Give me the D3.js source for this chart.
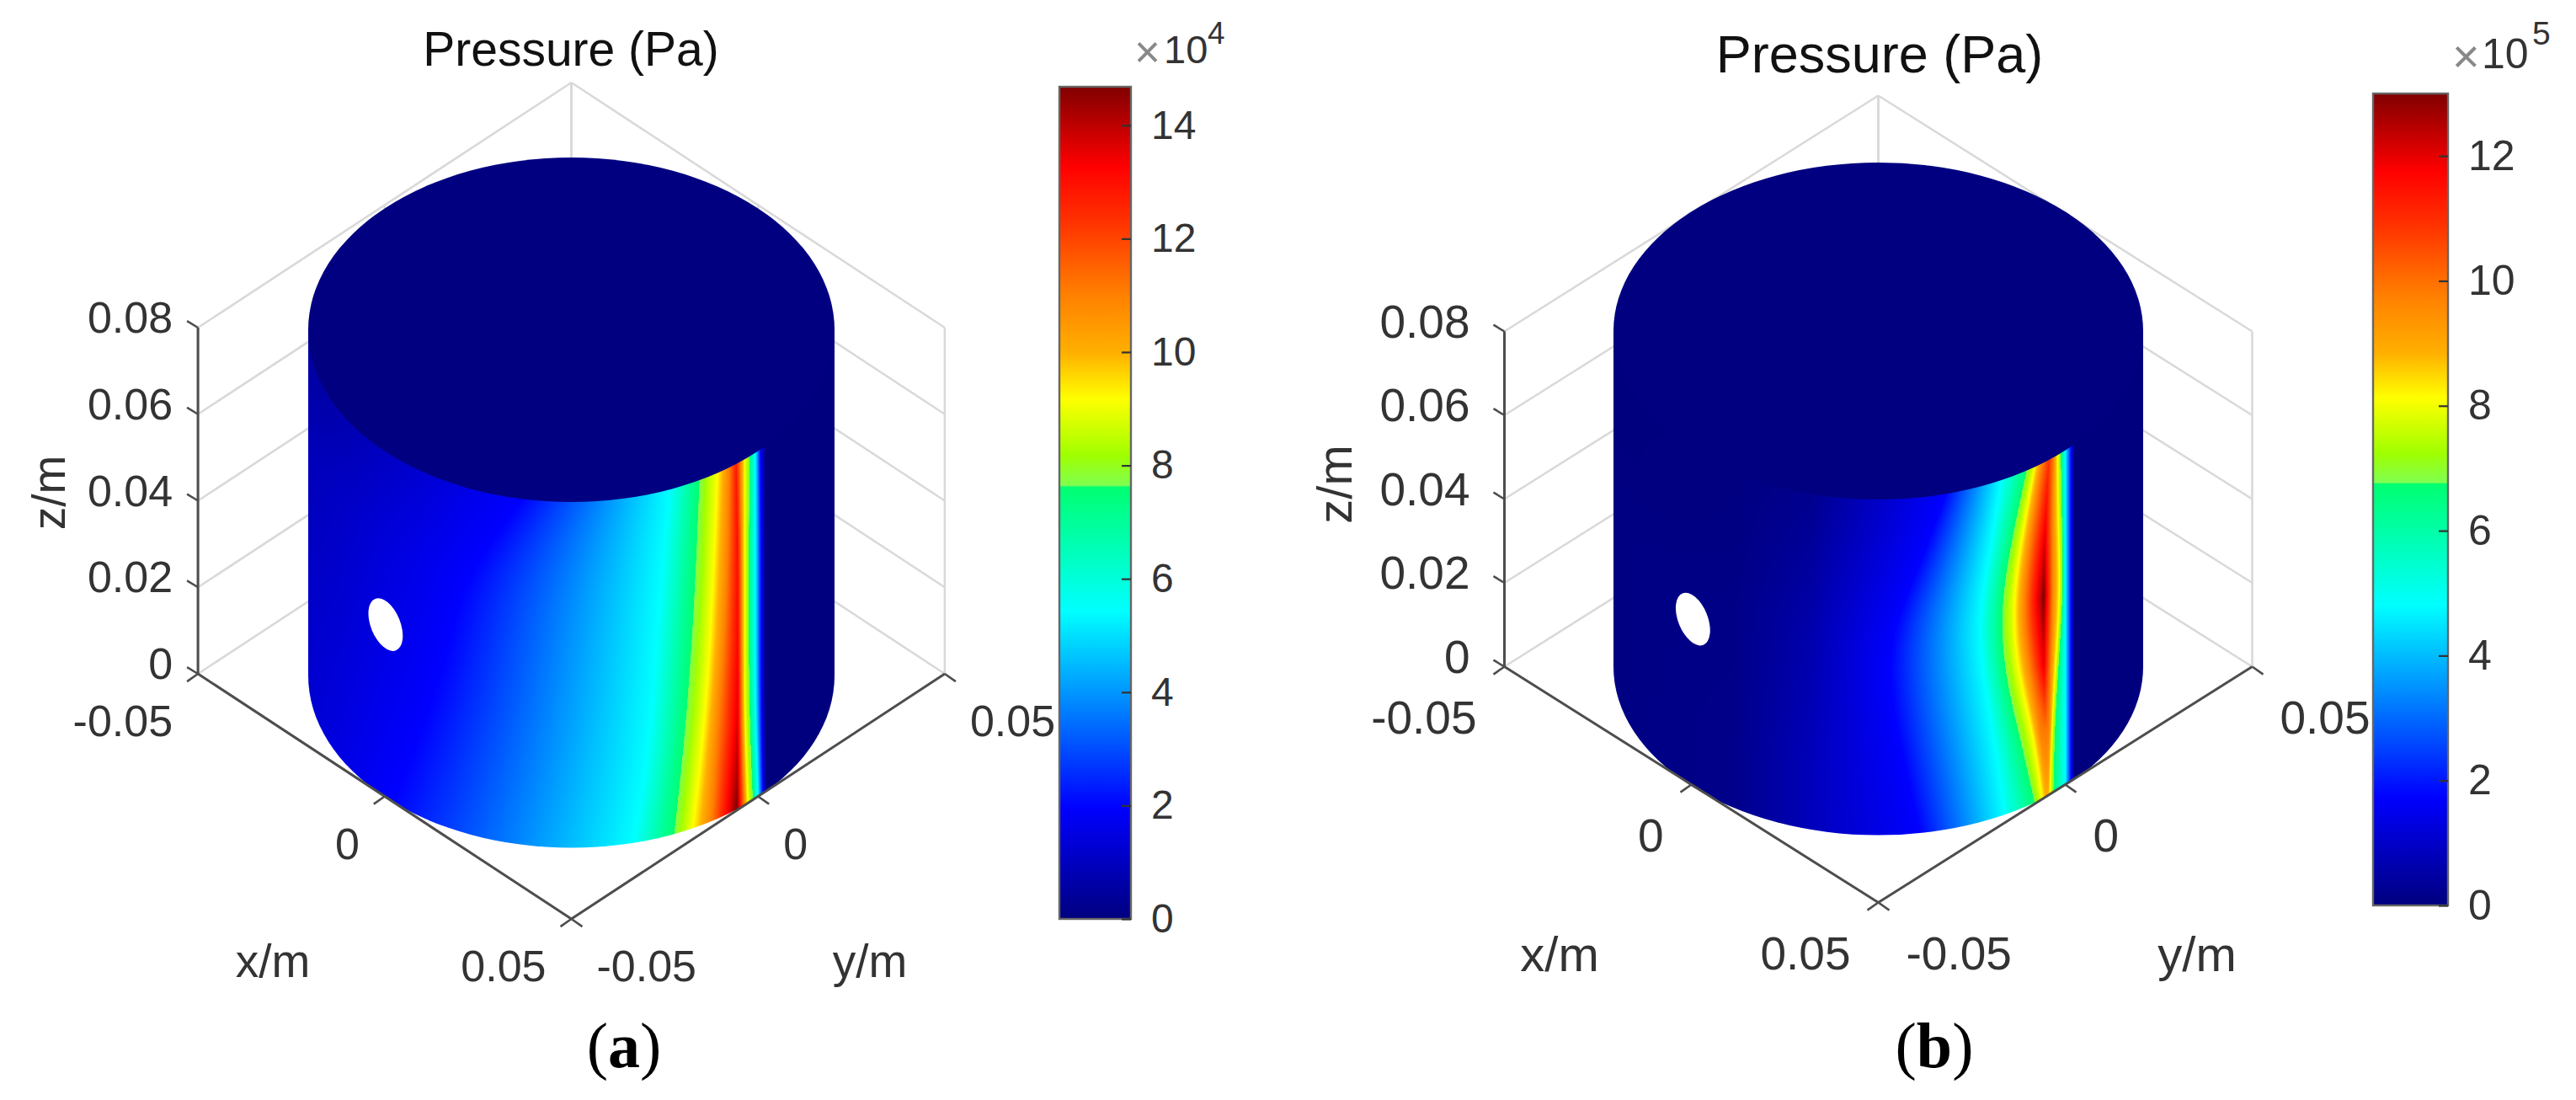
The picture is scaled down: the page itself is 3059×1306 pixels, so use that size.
<!DOCTYPE html>
<html>
<head>
<meta charset="utf-8">
<script src="https://cdn.jsdelivr.net/npm/d3@7"></script>
<style>
  html, body { margin: 0; background: #fff; }
  svg { display: block; }
  text { font-family: "Liberation Sans", Arial, sans-serif; fill: #333; }
</style>
</head>
<body>
<div id="viz"></div>
<script>
// tick labels
const xyTicks = [-0.05, 0, 0.05];
const zTicks = [0, 0.02, 0.04, 0.06, 0.08];
const barTicksA = [0, 2, 4, 6, 8, 10, 12, 14];
const barTicksB = [0, 2, 4, 6, 8, 10, 12];
const barMaxA = 14.68;
const barMaxB = 13.0;

// colormap (fraction of the colorbar range -> colour), note the step near 0.52
const cmapStops = [0, 0.133, 0.37, 0.519, 0.521, 0.557, 0.625, 0.68, 0.75, 0.84, 0.904, 1];
const cmapColors = ["#00007f", "#0000ff", "#00ffff", "#00ff70", "#80ff50", "#a0ff00", "#ffff00", "#ffb000", "#ff8000", "#ff3000", "#ff0000", "#800000"];

// wall pressure: one row per height z,
// knot position across the cylinder (-1..1 of the radius) and value at that knot
const heightsA = [0, 0.02, 0.04, 0.06, 0.08];
const knotPosA = [
  [-1, -0.683, 0.235, 0.389, 0.462, 0.533, 0.629, 0.670, 0.690, 0.709, 0.728, 0.741, 1],
  [-1, -0.571, 0.293, 0.427, 0.501, 0.555, 0.632, 0.658, 0.677, 0.699, 0.722, 0.738, 1],
  [-1, -0.475, 0.318, 0.453, 0.526, 0.581, 0.632, 0.658, 0.674, 0.699, 0.722, 0.738, 1],
  [-1, -0.411, 0.341, 0.472, 0.542, 0.594, 0.632, 0.658, 0.675, 0.699, 0.722, 0.738, 1],
  [-1, -0.187, 0.373, 0.485, 0.555, 0.600, 0.626, 0.658, 0.677, 0.699, 0.718, 0.738, 1]
];
const knotValA = [
  [1.25, 1.95, 5.43, 7.6, 9.17, 11, 14.68, 9.17, 7.6, 5.43, 1.95, 0, 0],
  [1.15, 1.95, 5.43, 7.6, 9.17, 11, 13.6, 9.17, 7.6, 5.43, 1.95, 0, 0],
  [1.0, 1.95, 5.43, 7.6, 9.17, 11, 13.2, 9.17, 7.6, 5.43, 1.95, 0, 0],
  [0.85, 1.95, 5.43, 7.6, 9.17, 11, 13.0, 9.17, 7.6, 5.43, 1.95, 0, 0],
  [0.5, 1.95, 5.43, 7.6, 9.17, 11, 12.8, 9.17, 7.6, 5.43, 1.95, 0, 0]
];

const heightsB = [0, 0.016, 0.032, 0.048, 0.064, 0.08];
const knotPosB = [
  [-1, -0.542, -0.256, 0.157, 0.475, 0.590, 0.618, 0.630, 0.638, 0.642, 0.648, 0.661, 0.706, 0.728, 0.740, 1],
  [-1, -0.542, -0.256, 0.100, 0.444, 0.539, 0.587, 0.618, 0.632, 0.643, 0.655, 0.666, 0.706, 0.728, 0.740, 1],
  [-1, -0.542, -0.256, 0.046, 0.401, 0.481, 0.528, 0.571, 0.624, 0.650, 0.671, 0.683, 0.706, 0.728, 0.740, 1],
  [-1, -0.542, -0.256, 0.040, 0.372, 0.458, 0.503, 0.543, 0.624, 0.660, 0.688, 0.699, 0.706, 0.728, 0.740, 1],
  [-1, -0.542, -0.256, 0.157, 0.422, 0.499, 0.539, 0.576, 0.629, 0.655, 0.679, 0.693, 0.706, 0.728, 0.740, 1],
  [-1, -0.542, -0.256, 0.253, 0.463, 0.560, 0.590, 0.618, 0.644, 0.661, 0.677, 0.689, 0.706, 0.728, 0.740, 1]
];
const knotValB = [
  [0.05, 0.15, 0.8, 1.73, 4.81, 6.76, 8.1, 8.8, 9.0, 8.8, 8.1, 6.76, 4.81, 1.73, 0, 0],
  [0.05, 0.15, 0.8, 1.73, 4.81, 6.76, 8.1, 9.75, 9.9, 9.75, 8.1, 6.76, 4.81, 1.73, 0, 0],
  [0.05, 0.12, 0.7, 1.73, 4.81, 6.76, 8.1, 9.75, 12.0, 9.75, 8.1, 6.76, 4.81, 1.73, 0, 0],
  [0.05, 0.1, 0.6, 1.73, 4.81, 6.76, 8.1, 9.75, 13.0, 9.75, 8.1, 6.76, 4.81, 1.73, 0, 0],
  [0, 0.05, 0.4, 1.73, 4.81, 6.76, 8.1, 9.75, 11.9, 9.75, 8.1, 6.76, 4.81, 1.73, 0, 0],
  [0, 0.02, 0.2, 1.73, 4.81, 6.76, 8.1, 9.75, 10.9, 9.75, 8.1, 6.76, 4.81, 1.73, 0, 0]
];

// port hole on the wall: position across the cylinder, height
const holeA = [-0.706, 0.04];
const holeB = [-0.70, 0.04];

const svg = d3.select("#viz").append("svg").attr("width", 3059).attr("height", 1306);
const defs = svg.append("defs");

function makeCmap(maxVal) {
  return d3.scaleLinear().domain(cmapStops.map(t => t * maxVal)).range(cmapColors).clamp(true);
}

function fieldImage(p) {
  const x0 = Math.floor(p.cx - p.rx) - 2;
  const y0 = Math.floor(p.cyTop) - 2;
  const w = Math.ceil(2 * p.rx) + 4;
  const h = Math.ceil(p.cyBot + p.ry - p.cyTop) + 4;

  const cmap = makeCmap(p.barMax);
  const lut = d3.range(2048).map(i => d3.rgb(cmap(i / 2047 * p.barMax)));

  // one s->value scale per height step. Knot positions follow a smooth spline over
  // height so the contours bend instead of showing corners at the read rows
  const nKnots = p.pos[0].length;
  const posAt = d3.range(nKnots).map(k => d3.interpolateBasis(p.pos.map(r => r[k])));
  const valAt = d3.range(nKnots).map(k => d3.scaleLinear().domain(p.heights).range(p.val.map(r => r[k])));
  const steps = 400;
  const rows = d3.range(steps + 1).map(i => {
    const z = i / steps * 0.08;
    const knots = posAt.map(f => f(i / steps));
    for (let k = 1; k < nKnots; k++) knots[k] = Math.max(knots[k], knots[k - 1]);
    return d3.scaleLinear().domain(knots).range(valAt.map(f => f(z))).clamp(true);
  });

  const canvas = document.createElement("canvas");
  canvas.width = w;
  canvas.height = h;
  const ctx = canvas.getContext("2d");
  const img = ctx.createImageData(w, h);
  const wallH = p.cyBot - p.cyTop;

  for (let j = 0; j < h; j++) {
    for (let i = 0; i < w; i++) {
      const s = Math.max(-1, Math.min(1, (x0 + i + 0.5 - p.cx) / p.rx));
      const front = p.ry * Math.sqrt(1 - s * s);
      const f = Math.max(0, Math.min(1, (p.cyBot + front - (y0 + j + 0.5)) / wallH));
      const v = rows[Math.round(f * steps)](s);
      const c = lut[Math.round(v / p.barMax * 2047)];
      const o = (j * w + i) * 4;
      img.data[o] = c.r;
      img.data[o + 1] = c.g;
      img.data[o + 2] = c.b;
      img.data[o + 3] = 255;
    }
  }
  ctx.putImageData(img, 0, 0);
  return { href: canvas.toDataURL(), x: x0, y: y0, w, h };
}

function drawPanel(p) {
  const g = svg.append("g");

  // box projection: each data axis adds its own screen offset
  const xToSx = d3.scaleLinear().domain([-0.05, 0.05]).range([-p.halfW, p.halfW]);
  const yToSx = d3.scaleLinear().domain([-0.05, 0.05]).range([-p.halfW, p.halfW]);
  const xToSy = d3.scaleLinear().domain([-0.05, 0.05]).range([-p.halfH, p.halfH]);
  const yToSy = d3.scaleLinear().domain([-0.05, 0.05]).range([p.halfH, -p.halfH]);
  const zToSy = d3.scaleLinear().domain([0, 0.08]).range([0, -p.boxH]);
  const proj = (x, y, z) => [
    p.originX + xToSx(x) + yToSx(y),
    p.originY + xToSy(x) + yToSy(y) + zToSy(z)
  ];
  const line = d3.line();
  const seg = (a, b, color, width) => g.append("path")
    .attr("d", line([a, b]))
    .attr("fill", "none")
    .attr("stroke", color)
    .attr("stroke-width", width);

  // grid on the two back walls
  const gridColor = "#d9d9d9";
  zTicks.forEach(z => {
    seg(proj(-0.05, -0.05, z), proj(-0.05, 0.05, z), gridColor, 2.6);
    seg(proj(-0.05, 0.05, z), proj(0.05, 0.05, z), gridColor, 2.6);
  });
  xyTicks.forEach(t => {
    seg(proj(t, 0.05, 0), proj(t, 0.05, 0.08), gridColor, 2.6);
    seg(proj(-0.05, t, 0), proj(-0.05, t, 0.08), gridColor, 2.6);
  });

  // cylinder wall, clipped to its outline, then the top face and the hole
  const outline = `M${p.cx - p.rx},${p.cyTop}A${p.rx},${p.ry} 0 0 1 ${p.cx + p.rx},${p.cyTop}` +
    `L${p.cx + p.rx},${p.cyBot}A${p.rx},${p.ry} 0 0 1 ${p.cx - p.rx},${p.cyBot}Z`;
  defs.append("clipPath").attr("id", p.id + "-clip").append("path").attr("d", outline);
  const field = fieldImage(p);
  g.append("image")
    .attr("href", field.href)
    .attr("x", field.x).attr("y", field.y)
    .attr("width", field.w).attr("height", field.h)
    .attr("clip-path", `url(#${p.id}-clip)`);
  g.append("ellipse")
    .attr("cx", p.cx).attr("cy", p.cyTop)
    .attr("rx", p.rx).attr("ry", p.ry)
    .attr("fill", "#000080");

  const sToX = d3.scaleLinear().domain([-1, 1]).range([p.cx - p.rx, p.cx + p.rx]);
  const holeX = sToX(p.hole[0]);
  const holeFront = p.ry * Math.sqrt(1 - p.hole[0] * p.hole[0]);
  const holeY = p.cyBot + holeFront + zToSy(p.hole[1]) * (p.cyBot - p.cyTop) / p.boxH;
  g.append("ellipse")
    .attr("cx", 0).attr("cy", 0)
    .attr("rx", 17.5).attr("ry", 33)
    .attr("transform", `translate(${holeX},${holeY}) rotate(-22)`)
    .attr("fill", "#fff");

  // dark axis lines and ticks
  const axisColor = "#4d4d4d";
  seg(proj(-0.05, -0.05, 0), proj(-0.05, -0.05, 0.08), axisColor, 3);
  seg(proj(-0.05, -0.05, 0), proj(0.05, -0.05, 0), axisColor, 3);
  seg(proj(0.05, -0.05, 0), proj(0.05, 0.05, 0), axisColor, 3);

  const tickLen = 13;
  xyTicks.forEach(t => {
    const a = proj(t, -0.05, 0);
    seg(a, [a[0] - tickLen, a[1] + tickLen * 0.7], axisColor, 2.6);
    const b = proj(0.05, t, 0);
    seg(b, [b[0] + tickLen, b[1] + tickLen * 0.7], axisColor, 2.6);
  });
  zTicks.forEach(z => {
    const a = proj(-0.05, -0.05, z);
    seg(a, [a[0] - tickLen, a[1] - tickLen * 0.6], axisColor, 2.6);
  });

  const tickText = (pos, dx, dy, anchor, label) => g.append("text")
    .attr("x", pos[0] + dx).attr("y", pos[1] + dy)
    .attr("dominant-baseline", "central")
    .attr("text-anchor", anchor)
    .attr("font-size", p.tickFont)
    .text(label);

  xyTicks.forEach(t => {
    tickText(proj(t, -0.05, 0), -p.tickGap, p.tickDrop, "end", d3.format("")(t).replace("\u2212", "-"));
    tickText(proj(0.05, t, 0), p.tickGap, p.tickDrop, "start", d3.format("")(t).replace("\u2212", "-"));
  });
  zTicks.forEach(z => tickText(proj(-0.05, -0.05, z), -p.zGap, -12, "end", d3.format("")(z)));

  const axisLabel = (pos, label, rot) => g.append("text")
    .attr("transform", `translate(${pos[0]},${pos[1]})` + (rot ? ` rotate(${rot})` : ""))
    .attr("dominant-baseline", "central")
    .attr("text-anchor", "middle")
    .attr("font-size", p.labelFont)
    .text(label);
  axisLabel(p.xLabel, "x/m");
  axisLabel(p.yLabel, "y/m");
  axisLabel(p.zLabel, "z/m", -90);

  g.append("text")
    .attr("x", p.titleX).attr("y", p.titleY)
    .attr("text-anchor", "middle")
    .attr("font-size", p.titleFont)
    .style("fill", "#111")
    .text("Pressure (Pa)");

  // colorbar
  const barScale = d3.scaleLinear().domain([0, p.barMax]).range([p.barBot, p.barTop]);
  const cmap = makeCmap(p.barMax);
  const grad = defs.append("linearGradient")
    .attr("id", p.id + "-bar")
    .attr("x1", 0).attr("y1", 1).attr("x2", 0).attr("y2", 0);
  cmapStops.forEach(t => grad.append("stop")
    .attr("offset", t)
    .attr("stop-color", cmap(t * p.barMax)));
  g.append("rect")
    .attr("x", p.barLeft).attr("y", p.barTop)
    .attr("width", p.barRight - p.barLeft).attr("height", p.barBot - p.barTop)
    .attr("fill", `url(#${p.id}-bar)`)
    .attr("stroke", "#666")
    .attr("stroke-width", 2.4);

  const barAxis = g.append("g")
    .attr("transform", `translate(${p.barRight},0)`)
    .call(d3.axisRight(barScale).tickValues(p.barTicks).tickSizeInner(-11).tickSizeOuter(0).tickPadding(p.barPad).tickFormat(d3.format("d")));
  barAxis.select(".domain").remove();
  barAxis.selectAll("line").attr("stroke", "#333").attr("stroke-width", 2.2);
  barAxis.selectAll("text")
    .attr("font-size", p.barFont)
    .attr("font-family", "Liberation Sans")
    .style("fill", "#333");

  // scale factor above the colorbar
  g.append("text")
    .attr("x", p.timesX).attr("y", p.timesY)
    .attr("font-size", p.timesFont)
    .style("fill", "#888")
    .text("\u00d7");
  g.append("text")
    .attr("x", p.tenX).attr("y", p.tenY)
    .attr("font-size", p.tenFont)
    .text("10");
  g.append("text")
    .attr("x", p.expX).attr("y", p.expY)
    .attr("font-size", p.expFont)
    .text(p.exp);

  // sub-figure letter
  const cap = g.append("text")
    .attr("x", p.capX).attr("y", 1267)
    .attr("text-anchor", "middle")
    .attr("font-size", 76)
    .style("font-family", '"Liberation Serif", serif')
    .style("fill", "#000");
  cap.append("tspan").text("(");
  cap.append("tspan").attr("font-weight", "bold").text(p.cap);
  cap.append("tspan").text(")");
}

drawPanel({
  id: "a", heights: heightsA, pos: knotPosA, val: knotValA, hole: holeA,
  originX: 678.5, originY: 800, halfW: 221.7, halfH: 145.5, boxH: 411,
  cx: 678.5, rx: 312.5, ry: 204.5, cyTop: 391.5, cyBot: 802,
  tickFont: 52, labelFont: 55, titleFont: 57, tickGap: 30, tickDrop: 56, zGap: 30,
  xLabel: [324, 1141], yLabel: [1033, 1141], zLabel: [58, 585],
  titleX: 678, titleY: 78,
  barMax: barMaxA, barTicks: barTicksA, barLeft: 1258, barRight: 1343, barTop: 103, barBot: 1091,
  barPad: 24, barFont: 48,
  timesX: 1347, timesY: 80, timesFont: 53,
  tenX: 1382, tenY: 75, tenFont: 47,
  expX: 1434, expY: 52, expFont: 37, exp: "4",
  capX: 741, cap: "a"
});

drawPanel({
  id: "b", heights: heightsB, pos: knotPosB, val: knotValB, hole: holeB,
  originX: 2230.5, originY: 791.5, halfW: 222, halfH: 140, boxH: 398,
  cx: 2230.5, rx: 314.5, ry: 200, cyTop: 393, cyBot: 791.5,
  tickFont: 55, labelFont: 58, titleFont: 63, tickGap: 33, tickDrop: 60, zGap: 41,
  xLabel: [1852, 1132], yLabel: [2609, 1132], zLabel: [1584, 575],
  titleX: 2232, titleY: 86,
  barMax: barMaxB, barTicks: barTicksB, barLeft: 2818, barRight: 2907, barTop: 111, barBot: 1075,
  barPad: 24, barFont: 50,
  timesX: 2912, timesY: 86, timesFont: 56,
  tenX: 2947, tenY: 81, tenFont: 50,
  expX: 3007, expY: 53, expFont: 39, exp: "5",
  capX: 2297, cap: "b"
});
</script>
</body>
</html>
